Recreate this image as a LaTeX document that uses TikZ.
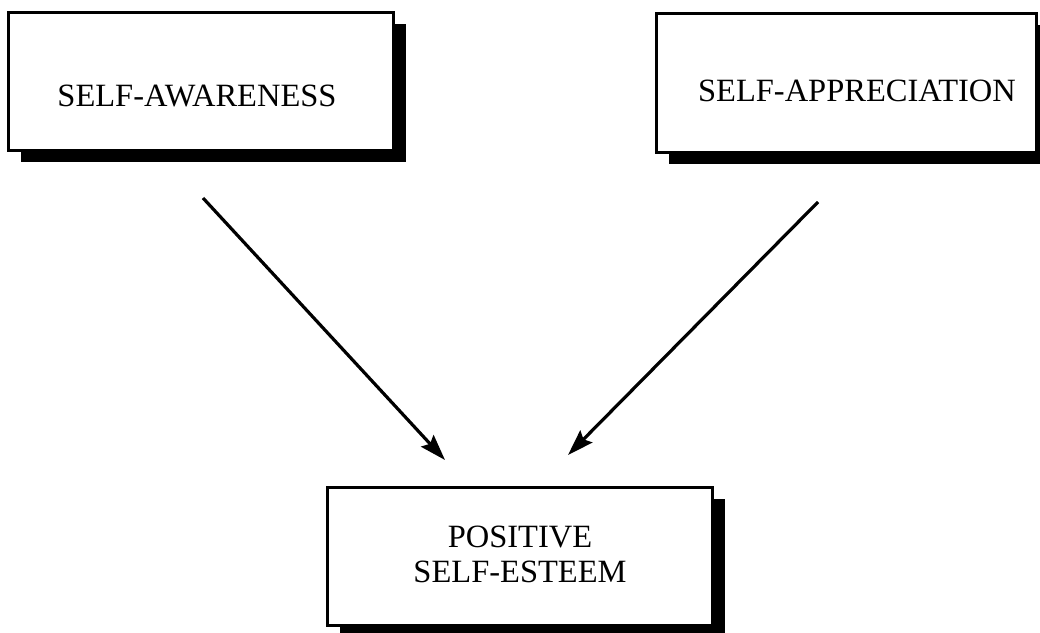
\documentclass[tikz,border=0pt]{standalone}
\usepackage{fontspec}
\setmainfont{Liberation Serif}
\usetikzlibrary{arrows.meta,shadows}
\begin{document}
\begin{tikzpicture}[x=1pt,y=-1pt,
  boxstyle/.style={draw=black, line width=3pt, fill=white, rectangle, inner sep=0pt,
    drop shadow={shadow xshift=13pt, shadow yshift=-12pt, fill=black, opacity=1}},
  labelstyle/.style={font=\fontsize{32.5}{35}\selectfont, align=center, inner sep=0pt},
  arr/.style={line width=3.2pt, -{Stealth[length=26pt,width=17pt,inset=4pt]}}]
\useasboundingbox (0,0) rectangle (1040,632);
\clip (0,0) rectangle (1040,632);
\node[boxstyle, minimum width=385pt, minimum height=138pt] (aw) at (200.5,81) {};
\node[boxstyle, minimum width=380pt, minimum height=139pt] (ap) at (846,82.5) {};
\node[boxstyle, minimum width=385pt, minimum height=138pt] (se) at (519.5,556) {};
\node[labelstyle] (awt) at (197,96) {SELF-AWARENESS};
\node[labelstyle] (apt) at (857,91) {SELF-APPRECIATION};
\node[labelstyle] (set) at (520,554) {POSITIVE\\SELF-ESTEEM};
\coordinate (a1s) at (203,198);
\coordinate (a1e) at (445,460);
\coordinate (a2s) at (818,202);
\coordinate (a2e) at (568,455);
\draw[arr] (a1s) -- (a1e);
\draw[arr] (a2s) -- (a2e);
\end{tikzpicture}
\end{document}
